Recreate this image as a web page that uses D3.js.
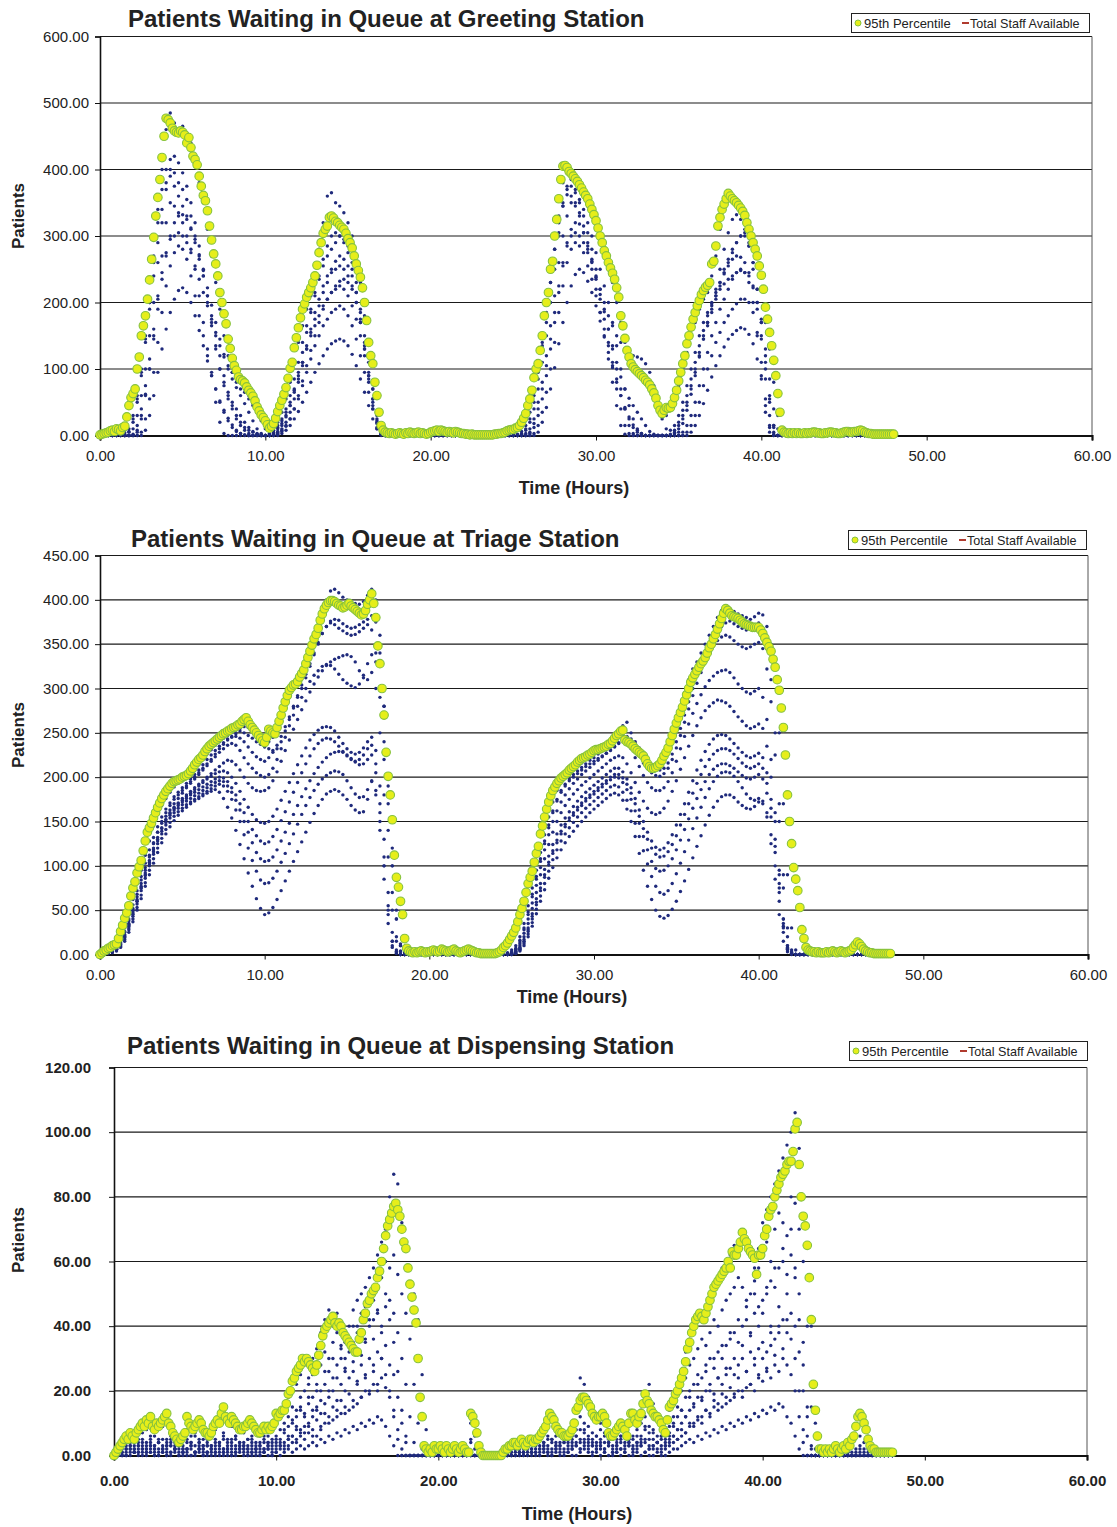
<!DOCTYPE html>
<html>
<head>
<meta charset="utf-8">
<script src="https://d3js.org/d3.v7.min.js"></script>
<style>
  body { margin: 0; background: #fff; }
  svg text { font-family: "Liberation Sans", Arial, Helvetica, sans-serif; fill: #222; }
</style>
</head>
<body>
<svg id="chart" width="1117" height="1527"></svg>
<script>
// sampling interval (hours) of the 95th percentile series and of each replication run
var p95Step = 0.125, runStep = 0.25;
var hourTicks = [0, 10, 20, 30, 40, 50, 60];

// ---------- Greeting station ----------
var greetTicks = [0, 100, 200, 300, 400, 500, 600];
var greetP95 = [
  1,2,3,4,5,7,8,6,10,9,7,12,14,28,45,57,
  63,70,100,118,150,165,180,205,234,265,298,330,358,385,418,450,
  477,475,470,462,458,456,455,458,456,452,440,448,433,420,415,407,
  390,375,361,353,338,315,294,273,258,240,215,200,183,168,145,131,
  116,105,98,88,84,82,79,73,68,64,59,52,43,37,31,27,
  22,16,11,14,18,26,36,45,53,62,72,86,101,110,132,147,
  162,177,190,198,208,215,222,230,240,256,275,290,304,310,315,328,
  330,327,322,320,316,313,310,304,296,290,282,270,258,248,238,222,
  200,173,140,120,108,80,60,35,15,8,5,4,3,4,3,2,
  3,4,3,2,4,3,5,4,3,4,5,3,4,3,2,3,
  5,6,7,8,6,8,7,6,5,6,5,4,6,5,4,3,
  3,2,2,1,2,1,1,1,1,1,1,1,1,1,1,2,
  2,3,3,4,5,7,8,9,9,11,12,15,20,26,33,45,
  55,68,87,100,108,128,150,180,200,215,250,262,300,325,356,385,
  405,406,403,397,394,390,386,382,377,372,366,361,356,348,340,332,
  323,312,300,290,278,270,260,252,244,235,222,208,180,165,146,128,
  118,108,103,99,96,93,90,87,83,80,76,70,64,56,45,38,
  33,38,42,41,42,48,57,68,82,95,108,120,138,150,163,175,
  185,195,203,212,218,223,226,230,258,262,285,315,328,340,348,356,
  364,360,356,353,350,346,342,337,331,320,310,300,290,280,270,255,
  241,220,193,175,155,135,113,90,63,35,8,5,4,3,4,3,
  4,3,4,3,3,4,3,4,4,5,5,4,4,3,3,4,
  4,5,5,4,4,3,3,4,5,6,6,5,5,6,6,7,
  8,7,5,4,3,3,2,2,2,2,2,2,2,2,2,2,
  2
];
var greetRuns = [
  [0,2,4,6,8,6,8,10, 30,60,100,150,200,270,340,400, 460,485,470,460,465,455,440,410,
   380,350,310,270,230,190,150,120, 95,80,70,65,55,45,35,25, 15,8,10,20,35,55,80,110,
   140,165,190,210,240,280,320,360, 365,350,345,335,320,300,270,230, 180,120,70,30,5,2,1,0,
   0,1,0,2,0,1,0,0, 2,4,3,5,2,1,0,1, 0,0,0,0,0,0,0,1,
   1,2,3,4,5,10,15,25, 45,70,100,140,185,230,280,330, 380,395,390,380,370,360,345,330,
   310,290,270,250,230,200,170,140, 120,110,100,95,85,75,60,45, 30,30,40,55,75,100,125,150,
   170,190,205,215,240,270,310,340, 355,360,350,340,330,300,280,255, 220,170,130,80,30,3,1,0,
   1,0,2,1,0,1,2,0, 1,2,1,0,2,3,2,4, 5,3,1,0,0,0,0,0, 0],
  [0,0,0,1,2,1,0,0, 10,30,60,100,150,200,260,320, 370,400,395,380,370,355,330,300,
   270,240,200,165,130,100,80,60, 50,40,30,20,12,6,2,0, 0,2,8,15,25,40,60,85,
   110,140,165,190,210,235,255,270, 280,290,300,295,285,260,230,190, 140,90,45,10,0,0,0,0,
   0,0,0,0,1,0,0,0, 0,1,0,0,0,2,0,0, 0,0,0,0,0,0,0,0,
   0,0,0,1,0,1,2,8, 20,40,70,110,150,200,250,300, 345,375,385,370,350,330,305,280,
   250,220,190,160,130,100,70,40, 15,3,0,0,0,0,0,0, 0,0,0,5,15,30,50,75,
   100,125,150,170,190,210,230,250, 265,280,290,300,305,290,260,220, 170,110,55,15,0,0,0,0,
   0,0,0,0,1,0,0,0, 0,0,0,1,0,0,0,1, 2,1,0,0,0,0,0,0, 0],
  [0,0,0,0,0,1,0,0, 0,5,25,60,100,150,210,270, 320,350,345,335,320,300,280,250,
   210,170,130,90,50,20,3,0, 0,0,0,1,0,0,2,0, 0,0,2,5,10,20,35,55,
   80,105,130,155,175,195,215,230, 245,250,255,250,240,225,200,170, 130,90,50,20,3,0,0,0,
   0,0,0,0,0,0,0,0, 0,0,0,0,0,0,0,0, 0,0,0,0,0,0,0,0,
   0,0,0,0,0,0,0,3, 10,25,50,80,120,165,210,260, 300,330,350,345,330,305,280,250,
   220,185,150,115,80,45,15,2, 0,0,0,1,0,0,0,0, 0,0,0,0,0,5,15,30,
   50,75,100,125,150,170,190,205, 220,235,245,250,245,230,200,150, 90,35,5,0,0,0,0,0,
   0,0,0,0,0,0,0,0, 0,0,0,0,0,0,0,0, 0,0,0,0,0,0,0,0, 0],
  [0,0,0,0,1,0,0,0, 2,15,40,75,115,160,205,245, 275,295,300,305,300,290,275,255,
   235,215,195,175,155,135,118,105, 95,88,80,70,60,48,35,22, 10,3,5,12,22,35,50,70,
   90,110,130,150,165,180,195,205, 215,220,225,220,210,195,175,150, 120,85,55,25,5,0,0,0,
   0,0,0,0,0,0,0,0, 0,0,0,0,0,0,0,0, 0,0,0,0,0,0,0,0,
   0,0,0,0,0,0,0,0, 3,12,30,55,90,130,170,215, 255,285,300,305,300,290,275,260,
   240,220,200,180,165,150,140,130, 125,120,118,115,108,95,75,50, 25,10,8,15,30,50,75,100,
   125,150,170,185,200,210,220,228, 235,240,245,248,245,240,225,200, 170,130,85,40,10,0,0,0,
   0,0,0,0,0,0,0,0, 0,0,0,0,0,0,0,0, 0,0,0,0,0,0,0,0, 0],
  [0,0,1,0,0,2,1,5, 20,50,90,140,190,240,290,340, 380,390,375,360,345,330,310,290,
   265,240,210,180,150,120,90,65, 45,30,20,12,8,5,3,2, 0,0,3,10,18,30,45,65,
   85,110,135,160,185,205,225,240, 250,262,270,265,255,240,215,185, 150,110,70,35,8,0,0,0,
   0,0,1,0,0,0,0,1, 0,0,0,0,1,0,0,0, 0,0,0,0,0,0,0,0,
   0,0,0,0,0,0,3,10, 25,50,85,125,170,215,260,305, 345,370,375,365,355,340,320,300,
   275,250,225,200,170,135,100,70, 45,25,10,3,0,0,0,0, 0,0,0,3,10,25,45,70,
   95,120,145,165,185,205,225,245, 260,275,290,300,300,285,260,220, 175,120,60,15,0,0,0,0,
   0,0,0,0,0,0,0,0, 0,0,0,0,0,0,0,0, 0,0,0,0,0,0,0,0, 0],
  [0,0,0,0,0,0,0,0, 0,0,5,25,55,95,140,185, 225,255,275,285,280,265,240,210,
   180,150,120,95,70,50,35,22, 12,6,3,1,0,0,0,0, 0,0,0,3,8,15,25,40,
   55,75,95,115,135,150,165,175, 185,190,195,190,180,165,145,120, 95,65,40,18,4,0,0,0,
   0,0,0,0,0,0,0,0, 0,0,0,0,0,0,0,0, 0,0,0,0,0,0,0,0,
   0,0,0,0,0,0,0,0, 0,3,15,35,65,100,140,185, 225,260,280,290,285,275,255,235,
   210,185,160,135,110,85,60,40, 25,12,5,2,0,0,0,0, 0,0,0,0,0,0,5,15,
   30,50,75,100,120,140,155,170, 180,190,198,205,205,200,185,155, 110,55,15,2,0,0,0,0,
   0,0,0,0,0,0,0,0, 0,0,0,0,0,0,0,0, 0,0,0,0,0,0,0,0, 0],
  [0,0,1,2,3,2,4,6, 25,55,95,145,200,260,320,370, 400,415,420,410,395,375,350,320,
   285,250,210,170,135,100,75,55, 40,25,15,8,3,0,0,0, 0,0,1,6,15,28,45,68,
   95,125,155,185,215,240,265,285, 300,305,300,290,275,250,215,175, 130,80,40,12,2,0,0,0,
   0,0,0,0,0,0,0,0, 0,0,0,0,0,0,0,0, 0,0,0,0,0,0,0,0,
   0,0,0,0,0,2,6,15, 35,60,95,135,180,230,280,320, 350,362,360,350,335,315,290,265,
   235,205,175,140,105,70,40,15, 3,0,0,0,0,0,0,0, 0,0,0,0,5,18,38,62,
   90,118,145,170,195,220,250,280, 305,325,332,325,310,285,250,200, 145,85,30,5,0,0,0,0,
   0,0,0,0,0,0,0,0, 0,0,0,0,0,0,0,0, 0,0,0,0,0,0,0,0, 0],
  [0,0,0,0,0,0,0,0, 0,8,30,62,100,145,190,235, 270,300,320,330,332,325,312,295,
   272,248,222,196,170,145,122,100, 85,72,60,48,35,22,10,3, 0,0,0,2,6,14,25,40,
   60,82,105,128,150,170,190,205, 215,225,232,235,230,220,200,170, 135,95,55,22,4,0,0,0,
   0,0,0,0,0,0,0,0, 0,0,0,0,0,0,0,0, 0,0,0,0,0,0,0,0,
   0,0,0,0,0,0,0,0, 5,18,40,70,105,145,185,225, 260,290,310,320,318,305,285,262,
   238,212,186,160,135,110,88,70, 56,45,35,25,15,6,2,0, 0,0,2,8,20,38,60,85,
   110,135,158,180,198,215,230,243, 255,265,270,268,260,245,222,190, 150,100,50,12,0,0,0,0,
   0,0,0,0,0,0,0,0, 0,0,0,0,0,0,0,0, 0,0,0,0,0,0,0,0, 0],
  [0,0,0,0,0,0,0,0, 0,0,0,8,30,60,95,130, 160,185,205,218,222,215,200,180,
   158,135,112,90,70,52,38,26, 16,8,3,0,0,0,0,0, 0,0,0,0,3,8,15,25,
   36,50,65,80,95,108,120,130, 138,142,145,142,135,122,105,85, 65,45,25,10,2,0,0,0,
   0,0,0,0,0,0,0,0, 0,0,0,0,0,0,0,0, 0,0,0,0,0,0,0,0,
   0,0,0,0,0,0,0,0, 0,0,5,20,42,70,102,138, 170,200,225,242,250,245,232,215,
   195,172,148,125,102,80,60,42, 28,16,8,3,0,0,0,0, 0,0,0,0,0,0,0,5,
   15,30,48,68,88,105,120,133, 145,152,158,162,160,152,138,115, 85,45,12,0,0,0,0,0,
   0,0,0,0,0,0,0,0, 0,0,0,0,0,0,0,0, 0,0,0,0,0,0,0,0, 0]
];

// ---------- Triage station ----------
var triageTicks = [0, 50, 100, 150, 200, 250, 300, 350, 400, 450];
var triageP95 = [
  0,2,4,5,7,8,10,11,12,18,26,33,41,47,55,66,
  75,82,92,99,106,117,128,138,143,148,154,160,166,171,176,180,
  184,187,190,193,195,196,197,198,200,201,202,204,207,210,214,217,
  220,222,225,229,232,235,237,239,241,243,245,247,249,250,252,253,
  255,256,257,259,260,263,265,267,263,259,256,253,250,247,244,241,
  239,245,254,252,250,249,256,263,270,278,285,292,298,301,304,305,
  308,313,317,321,328,335,342,349,356,361,368,377,384,390,394,397,
  399,399,398,396,394,393,391,392,394,396,393,391,389,387,385,383,
  384,388,395,400,407,396,380,348,328,300,270,228,201,180,152,112,
  87,76,60,45,18,7,4,3,2,3,2,3,4,3,2,3,
  3,4,5,4,3,4,6,5,4,3,4,5,6,4,3,2,
  3,4,5,6,5,4,3,2,2,1,1,1,1,1,1,1,
  1,2,3,5,8,10,13,17,21,25,30,37,45,52,60,70,
  80,87,94,104,114,122,136,145,155,164,172,179,185,189,193,196,
  199,201,203,205,208,210,212,214,217,219,221,222,223,225,226,228,
  230,231,231,232,233,234,235,237,238,241,244,247,249,252,253,242,
  240,239,237,235,232,230,228,226,224,220,215,212,210,210,211,213,
  215,219,224,228,233,240,247,254,261,267,273,279,286,293,300,307,
  312,316,320,324,328,331,335,340,346,350,356,361,367,373,379,385,
  390,388,385,382,381,380,379,377,375,373,372,371,370,369,369,369,
  369,366,362,357,352,347,342,333,324,310,298,278,256,225,180,150,
  125,98,85,72,53,28,18,8,5,4,3,3,2,3,2,2,
  2,3,2,3,4,3,2,3,4,3,2,3,4,5,8,11,
  14,12,9,6,4,3,2,2,1,1,1,1,1,1,1,1,
  1
];
var triageRuns = [
  [0,2,5,7,9,16,30,45, 62,80,95,112,128,145,158,168, 176,183,189,193,196,199,203,208,
   214,220,226,231,236,240,244,247, 250,253,255,257,256,252,247,242, 236,240,245,253,265,278,290,300,
   306,314,324,338,352,368,385,400, 410,412,408,403,400,398,396,395, 398,405,412,400,360,280,190,100,
   40,10,3,1,0,0,1,0, 0,2,1,0,0,1,0,0, 0,1,2,1,0,0,0,0,
   0,0,1,2,5,10,20,35, 55,75,95,115,135,155,172,185, 195,200,205,208,212,216,220,224,
   228,230,232,235,238,243,250,258, 262,250,240,233,226,218,212,210, 212,220,232,248,265,280,295,310,
   322,330,340,350,360,370,380,388, 392,390,387,384,382,380,378,381, 385,383,370,350,310,250,170,90,
   30,5,0,0,0,1,0,0, 0,1,0,2,1,3,6,10, 15,10,5,2,0,0,0,0, 0],
  [0,0,2,4,7,12,22,35, 50,65,80,95,110,125,138,150, 160,168,175,180,185,190,195,200,
   205,210,215,220,226,232,237,242, 246,249,252,250,247,244,240,237, 234,232,230,232,240,252,265,278,
   290,300,312,325,338,350,362,370, 376,378,377,373,370,368,369,372, 375,378,382,375,340,280,200,120,
   50,12,2,0,0,0,0,0, 0,0,0,1,0,0,0,0, 0,0,0,0,0,0,0,0,
   0,0,0,1,2,6,14,28, 45,65,85,105,125,143,160,173, 183,190,196,200,204,208,212,215,
   218,221,224,227,230,234,238,242, 245,243,238,232,226,220,214,210, 208,210,216,226,240,255,270,285,
   300,315,328,340,350,358,365,370, 374,376,373,370,368,366,368,372, 374,365,345,310,250,170,90,30,
   5,0,0,0,0,0,0,0, 0,0,1,0,0,2,4,8, 12,8,3,1,0,0,0,0, 0],
  [0,1,3,5,8,14,25,38, 52,68,84,98,112,126,138,148, 156,163,170,176,182,188,193,198,
   203,208,213,218,223,228,232,236, 238,236,230,222,215,210,205,202, 200,203,210,220,232,245,258,270,
   280,290,300,308,315,320,325,327, 326,322,316,310,306,303,301,305, 315,328,338,330,300,240,170,100,
   40,10,2,0,0,0,0,0, 0,0,0,0,0,0,0,0, 0,0,0,0,0,0,0,0,
   0,0,0,1,2,5,12,24, 40,58,78,98,118,135,150,162, 172,180,187,193,198,203,207,211,
   215,219,223,227,231,235,239,242, 240,232,222,212,202,194,188,185, 185,188,195,205,218,232,246,260,
   272,283,293,302,309,314,318,320, 321,318,312,305,300,296,294,297, 300,290,265,220,160,95,40,10,
   2,0,0,0,0,0,0,0, 0,0,0,0,0,0,0,0, 0,0,0,0,0,0,0,0, 0],
  [0,0,2,4,6,11,20,32, 45,60,75,90,104,118,130,142, 152,160,166,171,176,180,184,188,
   192,196,200,204,208,212,216,219, 218,214,208,200,193,188,185,184, 185,188,196,206,218,230,242,254,
   265,276,286,296,305,313,320,326, 330,333,335,337,338,336,330,320, 312,310,318,300,250,180,110,50,
   15,3,0,0,0,0,0,0, 0,0,0,0,0,0,0,0, 0,0,0,0,0,0,0,0,
   0,0,0,0,1,4,10,20, 35,52,70,90,108,124,138,150, 160,168,175,181,186,191,195,199,
   203,207,211,215,219,222,224,222, 215,205,194,183,173,165,160,158, 160,165,173,184,196,209,222,235,
   247,258,267,275,280,284,287,286, 284,280,274,268,263,258,255,257, 260,255,235,200,150,90,40,10,
   2,0,0,0,0,0,0,0, 0,0,0,0,0,0,0,0, 0,0,0,0,0,0,0,0, 0],
  [0,1,2,4,7,12,22,34, 48,62,77,92,106,120,132,143, 152,159,165,170,174,178,182,186,
   190,194,198,201,204,206,207,205, 200,193,184,175,166,158,152,149, 148,150,156,164,174,184,194,204,
   214,224,233,242,248,253,256,257, 256,252,245,238,232,228,226,228, 233,240,245,230,190,130,70,25,
   5,0,0,0,0,0,0,0, 0,0,0,0,0,0,0,0, 0,0,0,0,0,0,0,0,
   0,0,0,0,1,3,8,17, 30,46,63,80,96,111,124,136, 146,154,161,167,173,178,183,187,
   191,195,199,203,207,210,210,206, 198,188,176,163,150,138,128,121, 118,120,126,135,146,158,170,183,
   196,208,219,229,237,243,247,248, 247,243,238,233,228,224,222,224, 227,222,205,175,130,80,35,8,
   1,0,0,0,0,0,0,0, 0,0,0,0,0,0,0,0, 0,0,0,0,0,0,0,0, 0],
  [0,0,1,3,6,10,19,30, 43,57,72,86,100,113,125,136, 146,154,160,165,169,173,176,179,
   182,185,188,191,194,196,195,190, 183,174,163,150,138,126,115,108, 105,106,110,118,128,138,148,158,
   168,178,187,196,204,211,217,222, 226,228,229,228,225,221,217,214, 215,220,225,205,160,100,45,10,
   2,0,0,0,0,0,0,0, 0,0,0,0,0,0,0,0, 0,0,0,0,0,0,0,0,
   0,0,0,0,0,2,6,14, 26,40,56,72,87,101,114,126, 136,144,151,157,163,168,173,177,
   181,185,189,193,197,200,199,194, 186,175,162,148,133,118,105,97, 94,95,100,108,118,129,141,153,
   165,176,186,195,203,209,213,215, 215,213,210,206,202,199,198,200, 203,198,182,155,115,70,30,6,
   1,0,0,0,0,0,0,0, 0,0,0,0,0,0,0,0, 0,0,0,0,0,0,0,0, 0],
  [0,0,1,3,5,9,17,28, 40,53,67,81,95,108,120,131, 141,149,156,161,165,169,172,175,
   178,181,184,187,190,192,190,184, 175,163,150,135,120,106,94,84, 80,81,86,94,104,114,125,136,
   147,158,168,177,185,192,198,202, 205,207,206,203,196,188,181,177, 178,186,196,180,140,85,35,8,
   1,0,0,0,0,0,0,0, 0,0,0,0,0,0,0,0, 0,0,0,0,0,0,0,0,
   0,0,0,0,0,1,5,12, 23,36,51,66,80,94,107,118, 128,136,143,149,155,160,165,169,
   173,177,181,185,189,191,189,183, 174,162,148,133,117,102,88,77, 70,68,72,80,91,103,116,129,
   142,154,166,177,187,195,201,205, 206,205,201,195,188,181,176,174, 176,173,160,135,100,60,25,5,
   1,0,0,0,0,0,0,0, 0,0,0,0,0,0,0,0, 0,0,0,0,0,0,0,0, 0],
  [0,0,1,2,4,8,15,25, 37,50,63,77,90,103,115,126, 136,144,151,157,162,166,170,173,
   176,179,182,184,186,183,176,166, 154,140,124,108,92,77,63,52, 45,47,53,62,72,83,94,105,
   116,127,138,149,159,168,175,181, 184,186,184,180,175,168,163,160, 161,175,195,185,150,100,50,15,
   3,0,0,0,0,0,0,0, 0,0,0,0,0,0,0,0, 0,0,0,0,0,0,0,0,
   0,0,0,0,0,1,4,10, 20,32,46,60,73,86,98,109, 118,126,133,139,145,150,155,160,
   164,168,172,176,180,182,180,174, 164,150,133,114,95,77,62,50, 43,41,44,51,60,71,83,96,
   109,122,134,146,157,166,173,178, 180,180,177,172,168,165,164,167, 172,170,155,125,85,45,15,3,
   0,0,0,0,0,0,0,0, 0,0,0,0,0,0,0,0, 0,0,0,0,0,0,0,0, 0],
  [0,1,3,6,8,14,26,40, 56,72,88,103,118,132,144,155, 164,171,178,183,188,193,198,203,
   208,214,220,225,230,235,239,243, 245,246,244,240,234,228,223,220, 218,222,228,236,246,257,268,280,
   292,304,316,328,340,352,362,370, 374,372,368,365,362,360,361,364, 368,372,366,340,290,220,140,70,
   20,4,0,0,0,0,0,0, 0,0,0,0,0,0,0,0, 0,0,0,0,0,0,0,0,
   0,0,0,1,3,7,16,30, 48,68,88,108,128,146,162,175, 185,192,198,203,207,211,215,219,
   222,226,230,234,238,242,246,248, 246,240,232,224,216,210,205,202, 201,204,210,220,233,247,262,277,
   292,306,318,330,340,348,354,358, 360,358,354,350,347,345,347,350, 352,345,322,285,225,150,75,20,
   3,0,0,0,0,0,0,0, 0,0,0,0,0,0,0,0, 0,0,0,0,0,0,0,0, 0],
  [0,0,1,3,6,11,20,33, 46,60,75,89,102,116,128,139, 149,157,163,168,172,176,180,183,
   186,189,192,195,198,200,199,195, 188,180,170,160,150,141,134,128, 125,127,133,141,151,161,172,183,
   194,205,215,224,232,238,242,244, 243,240,235,229,224,220,218,220, 225,232,236,215,170,110,55,15,
   3,0,0,0,0,0,0,0, 0,0,0,0,0,0,0,0, 0,0,0,0,0,0,0,0,
   0,0,0,0,1,3,7,15, 28,43,59,75,90,104,117,129, 139,147,154,160,166,171,176,180,
   184,188,192,196,200,203,203,199, 192,182,170,156,142,130,120,113, 110,111,116,124,134,146,158,170,
   182,193,203,212,220,226,230,232, 232,230,226,221,216,212,210,212, 215,210,193,165,122,75,32,7,
   1,0,0,0,0,0,0,0, 0,0,0,0,0,0,0,0, 0,0,0,0,0,0,0,0, 0]
];

// ---------- Dispensing station ----------
var dispTicks = [0, 20, 40, 60, 80, 100, 120];
var dispP95 = [
  0,1,2,3,4,5,6,5,7,6,5,7,8,9,10,9,
  11,10,12,9,8,10,9,10,11,12,13,10,9,7,6,5,
  4,5,6,7,12,10,9,8,9,10,11,10,8,7,7,6,
  7,9,10,11,10,13,15,12,11,10,12,11,10,9,8,8,
  9,9,10,11,10,9,8,7,7,8,9,8,9,8,9,10,
  13,12,13,14,14,16,19,20,23,24,26,27,28,30,29,30,
  29,28,27,26,28,31,34,37,39,40,41,42,43,41,40,41,
  40,38,37,36,35,34,33,32,32,36,38,42,44,47,48,50,
  51,52,55,57,60,64,68,71,73,75,77,78,76,74,70,66,
  64,58,53,49,45,41,30,18,12,3,2,1,2,1,3,2,
  2,3,2,1,3,2,1,2,3,2,1,2,3,2,1,1,
  13,12,10,7,3,1,0,0,0,0,0,0,0,0,0,0,
  1,2,2,3,3,4,4,3,4,5,4,3,4,5,5,4,
  5,5,6,7,8,9,11,13,12,11,9,8,7,7,6,6,
  6,7,8,10,14,15,17,18,18,17,16,15,13,12,11,12,
  12,13,12,10,7,6,6,7,8,9,10,9,8,6,10,13,
  13,11,10,12,13,16,19,17,16,14,13,12,12,11,10,8,
  7,11,15,16,17,19,20,22,24,26,29,33,35,38,40,42,
  43,44,43,42,44,46,48,50,52,53,54,55,56,57,58,60,
  58,63,62,62,64,66,69,67,66,64,63,62,61,56,62,62,
  64,68,70,74,76,77,80,82,84,86,87,88,90,91,91,94,
  101,103,90,80,74,71,65,55,42,22,14,6,2,2,1,2,
  1,2,1,2,3,2,1,2,3,2,4,3,5,6,9,12,
  13,12,10,8,5,3,2,2,1,1,1,1,1,1,1,1,
  1
];
var dispRuns = [
  [0,2,4,3,5,6,4,7, 8,5,6,4,9,5,3,4, 2,5,8,6,7,4,5,3, 6,8,10,7,5,9,6,4, 7,5,6,8,4,5,6,9,
   10,12,15,18,20,22,25,28, 24,30,33,38,42,45,40,44, 38,35,40,45,48,50,52,55, 58,62,66,70,80,87,84,72,
   65,58,50,42,25,8,0,0, 0,1,0,0,2,0,0,0, 10,6,0,0,0,0,0,0, 1,2,3,2,4,3,5,4, 6,5,7,10,12,8,6,5,
   7,10,15,24,22,18,14,12, 10,12,8,6,9,10,7,9, 12,10,14,18,22,16,12,10, 8,14,18,22,26,32,36,40,
   44,42,45,48,52,55,58,60, 62,65,64,68,66,62,58,64, 72,76,80,84,88,92,96,100, 106,95,80,65,40,10,0,0,
   0,1,0,2,0,1,3,8, 12,10,6,3,1,0,0,0, 0],
  [0,1,2,4,3,2,5,3, 4,6,3,2,5,4,6,3, 5,3,4,2,6,5,3,4, 3,5,4,6,3,4,5,2, 4,3,5,2,6,4,3,5,
   6,8,10,12,15,14,18,20, 22,25,20,28,32,30,35,38, 34,30,36,40,38,44,46,50, 48,52,55,60,58,62,56,50,
   44,36,22,10,2,0,0,0, 0,0,1,0,0,0,1,0, 4,2,0,0,0,0,0,0, 0,1,2,3,2,1,3,4, 3,5,4,6,5,4,7,6,
   5,6,8,12,10,9,7,6, 8,6,5,7,4,6,8,5, 6,8,10,12,9,7,6,5, 6,9,12,15,20,24,28,30,
   33,36,34,38,42,40,45,48, 50,52,55,52,48,50,54,58, 62,66,60,70,75,72,68,80, 78,70,60,40,15,2,0,0,
   0,0,1,0,0,1,0,2, 6,4,2,1,0,0,0,0, 0],
  [0,0,1,2,3,1,2,4, 2,3,1,4,2,3,5,2, 3,1,2,4,3,2,1,3, 2,4,3,1,2,5,3,2, 3,2,4,1,3,2,4,3,
   4,5,7,9,10,12,14,13, 16,18,15,20,22,26,24,28, 30,27,32,35,33,38,36,40, 42,45,40,46,48,44,38,30,
   22,12,4,0,0,0,0,0, 0,0,0,0,0,0,0,0, 0,0,0,0,0,0,0,0, 0,0,1,2,1,2,3,2, 3,2,4,3,5,3,4,5,
   4,5,6,8,7,6,5,4, 5,4,6,3,5,4,6,3, 5,4,6,8,7,5,4,6, 5,7,9,12,14,18,20,22,
   25,24,28,30,27,32,30,34, 36,38,35,40,42,38,44,46, 48,50,54,52,58,60,56,62, 58,50,35,15,3,0,0,0,
   0,0,0,0,0,0,0,1, 3,2,1,0,0,0,0,0, 0],
  [0,0,0,1,2,3,1,2, 3,1,2,0,3,2,1,2, 1,2,0,3,1,2,3,1, 2,1,3,2,0,1,2,3, 1,2,0,2,3,1,2,0,
   2,3,4,5,6,8,7,9, 10,12,14,13,16,18,20,17, 22,20,24,26,23,28,25,30, 28,32,30,34,28,25,18,10,
   4,0,0,0,0,0,0,0, 0,0,0,0,0,0,0,0, 0,0,0,0,0,0,0,0, 0,0,0,1,0,1,2,1, 2,1,3,2,1,3,2,4,
   3,2,4,5,3,4,3,2, 3,2,4,1,3,2,3,4, 2,3,5,4,3,2,4,3, 3,5,6,8,10,12,14,16,
   18,17,20,22,19,24,22,25, 27,25,28,30,26,32,30,33, 35,32,38,36,40,42,38,44, 40,32,20,6,0,0,0,0,
   0,0,0,0,0,0,0,0, 1,0,0,0,0,0,0,0, 0],
  [0,0,0,0,1,2,1,0, 1,2,0,1,2,0,1,2, 0,1,2,0,1,2,0,1, 1,0,2,1,2,0,1,2, 2,0,1,2,0,1,2,1,
   1,2,3,3,4,5,6,5, 7,8,6,9,10,12,11,14, 13,15,14,17,16,18,20,19, 22,20,24,21,18,12,5,0,
   0,0,0,0,0,0,0,0, 0,0,0,0,0,0,0,0, 0,0,0,0,0,0,0,0, 0,0,0,0,1,0,1,0, 1,0,2,1,0,2,1,2,
   1,2,3,2,4,2,1,3, 2,1,3,2,1,2,1,3, 1,2,3,1,2,3,2,1, 2,3,4,5,6,7,9,10,
   11,12,14,13,15,16,15,18, 17,19,20,18,21,22,20,24, 23,26,24,28,26,30,28,25, 20,12,4,0,0,0,0,0,
   0,0,0,0,0,0,0,0, 0,0,0,0,0,0,0,0, 0],
  [0,0,0,0,0,1,0,1, 0,1,0,0,1,0,0,1, 0,0,1,0,0,1,0,0, 0,1,0,0,1,0,0,1, 0,0,1,0,0,1,0,0,
   1,0,1,2,1,2,3,2, 3,4,3,5,4,6,5,7, 6,8,7,9,8,10,9,11, 10,12,11,9,6,3,0,0,
   0,0,0,0,0,0,0,0, 0,0,0,0,0,0,0,0, 0,0,0,0,0,0,0,0, 0,0,0,0,0,0,0,1, 0,0,1,0,0,1,0,0,
   1,0,0,1,2,1,0,1, 0,1,0,0,1,0,1,0, 0,1,0,1,0,0,1,0, 0,1,2,2,3,4,5,4,
   6,5,7,6,8,7,9,8, 10,9,11,10,12,11,13,12, 14,13,15,14,16,15,12,10, 6,2,0,0,0,0,0,0,
   0,0,0,0,0,0,0,0, 0,0,0,0,0,0,0,0, 0],
  [0,1,3,2,4,1,3,5, 2,4,3,5,1,3,4,2, 4,2,5,3,1,4,2,5, 3,2,4,5,2,3,6,4, 2,5,3,4,2,6,3,4,
   5,3,8,6,11,9,15,12, 18,14,22,17,26,20,30,24, 33,26,36,29,40,31,35,42, 36,44,38,50,42,35,26,14,
   6,0,0,0,0,0,0,0, 0,0,0,0,0,0,0,0, 5,0,0,0,0,0,0,0, 0,1,0,2,1,3,2,1, 4,2,3,5,2,6,3,4,
   5,3,6,4,8,5,3,6, 4,7,3,5,2,6,4,5, 3,6,4,9,5,8,4,6, 4,6,10,8,14,12,18,15,
   22,18,26,20,30,24,34,27, 38,30,42,34,46,37,50,40, 44,52,40,58,46,64,50,70, 55,42,28,12,2,0,0,0,
   0,0,0,0,0,0,1,0, 2,1,0,0,0,0,0,0, 0],
  [0,0,1,0,2,1,3,2, 1,3,2,4,2,1,3,2, 3,1,2,4,1,3,2,1, 2,3,1,2,4,2,1,3, 3,1,2,3,1,2,4,2,
   3,4,2,5,6,4,8,7, 9,6,11,8,13,10,15,12, 17,13,19,15,22,18,24,20, 26,22,30,25,20,14,8,2,
   0,0,0,0,0,0,0,0, 0,0,0,0,0,0,0,0, 0,0,0,0,0,0,0,0, 0,0,1,0,2,1,0,2, 1,3,2,1,4,2,3,1,
   2,4,3,2,5,3,4,2, 3,2,4,1,3,5,2,4, 2,4,3,5,2,3,4,2, 3,4,6,5,8,7,10,9,
   12,10,14,12,17,14,19,16, 21,18,24,20,26,22,28,25, 30,27,34,31,38,33,42,36, 30,20,8,0,0,0,0,0,
   0,0,0,0,0,0,0,0, 0,0,0,0,0,0,0,0, 0]
];

var panels = [
  { title: "Patients Waiting in Queue at Greeting Station", p95: greetP95, runs: greetRuns, yTicks: greetTicks,
    left: 100, right: 1092, top: 36.5, bottom: 435.5, titleX: 128, titleY: 27,
    legendX: 851, legendY: 13, yLabelY: 216, xLabelX: 574, xLabelY: 494, yPad: 6, xPad: 10, boldTicks: false },
  { title: "Patients Waiting in Queue at Triage Station", p95: triageP95, runs: triageRuns, yTicks: triageTicks,
    left: 100, right: 1088, top: 555.5, bottom: 954.5, titleX: 131, titleY: 547,
    legendX: 848, legendY: 530, yLabelY: 735, xLabelX: 572, xLabelY: 1003, yPad: 6, xPad: 10, boldTicks: false },
  { title: "Patients Waiting in Queue at Dispensing Station", p95: dispP95, runs: dispRuns, yTicks: dispTicks,
    left: 114, right: 1087, top: 1067.5, bottom: 1455.5, titleX: 127, titleY: 1054,
    legendX: 849, legendY: 1041, yLabelY: 1240, xLabelX: 577, xLabelY: 1520, yPad: 18, xPad: 15, boldTicks: true }
];

var svg = d3.select("#chart");
var fmt = d3.format(".2f");

panels.forEach(function (p) {
  var g = svg.append("g");
  var x = d3.scaleLinear().domain([0, 60]).range([p.left, p.right]);
  var yMax = p.yTicks[p.yTicks.length - 1];
  var y = d3.scaleLinear().domain([0, yMax]).range([p.bottom, p.top]);

  // horizontal gridlines
  g.selectAll("line.grid")
    .data(p.yTicks.filter(function (d) { return d > 0; }))
    .enter().append("line")
    .attr("class", "grid")
    .attr("x1", p.left).attr("x2", p.right)
    .attr("y1", function (d) { return y(d); })
    .attr("y2", function (d) { return y(d); })
    .attr("stroke", "#1a1a1a").attr("stroke-width", 1.1);

  // right border
  g.append("line")
    .attr("x1", p.right).attr("x2", p.right)
    .attr("y1", p.top).attr("y2", p.bottom)
    .attr("stroke", "#555").attr("stroke-width", 1);

  var yAxis = g.append("g")
    .attr("transform", "translate(" + p.left + ",0)")
    .call(d3.axisLeft(y).tickValues(p.yTicks).tickFormat(fmt).tickSize(5).tickPadding(p.yPad));
  var xAxis = g.append("g")
    .attr("transform", "translate(0," + p.bottom + ")")
    .call(d3.axisBottom(x).tickValues(hourTicks).tickFormat(fmt).tickSize(5).tickPadding(p.xPad));

  [yAxis, xAxis].forEach(function (a) {
    a.attr("color", "#111");
    a.selectAll("text")
      .style("font-size", "15px")
      .style("font-weight", p.boldTicks ? "bold" : "normal")
      .style("fill", "#222");
  });
  yAxis.select(".domain").attr("stroke-width", 1.6);
  xAxis.select(".domain").attr("stroke-width", 2.2);

  // replication runs
  p.runs.forEach(function (run) {
    g.append("g").selectAll("circle")
      .data(run)
      .enter().append("circle")
      .attr("cx", function (d, i) { return x(i * runStep); })
      .attr("cy", function (d) { return y(d); })
      .attr("r", 1.7)
      .attr("fill", "#1f2a7c");
  });

  // 95th percentile
  g.append("g").selectAll("circle")
    .data(p.p95)
    .enter().append("circle")
    .attr("cx", function (d, i) { return x(i * p95Step); })
    .attr("cy", function (d) { return y(d); })
    .attr("r", 4.3)
    .attr("fill", "#e6ee1a")
    .attr("stroke", "#86c23e")
    .attr("stroke-width", 1.1);

  // titles
  g.append("text")
    .attr("x", p.titleX).attr("y", p.titleY)
    .style("font-size", "24px").style("font-weight", "bold")
    .text(p.title);

  g.append("text")
    .attr("transform", "translate(24," + p.yLabelY + ") rotate(-90)")
    .attr("text-anchor", "middle")
    .style("font-size", "17px").style("font-weight", "bold")
    .text("Patients");

  g.append("text")
    .attr("x", p.xLabelX).attr("y", p.xLabelY)
    .attr("text-anchor", "middle")
    .style("font-size", "18px").style("font-weight", "bold")
    .text("Time (Hours)");

  // legend
  var lg = g.append("g").attr("transform", "translate(" + p.legendX + "," + p.legendY + ")");
  lg.append("rect")
    .attr("x", 0.5).attr("y", 0.5).attr("width", 238).attr("height", 19)
    .attr("fill", "#fff").attr("stroke", "#222").attr("stroke-width", 1);
  lg.append("circle")
    .attr("cx", 7).attr("cy", 10).attr("r", 3)
    .attr("fill", "#e6ee1a").attr("stroke", "#86c23e").attr("stroke-width", 1);
  lg.append("text").attr("x", 13).attr("y", 14.5)
    .style("font-size", "13px").text("95th Percentile");
  lg.append("line")
    .attr("x1", 111).attr("x2", 118).attr("y1", 10).attr("y2", 10)
    .attr("stroke", "#b03a2e").attr("stroke-width", 2);
  lg.append("text").attr("x", 119).attr("y", 14.5)
    .style("font-size", "12.6px").text("Total Staff Available");
});
</script>
</body>
</html>
